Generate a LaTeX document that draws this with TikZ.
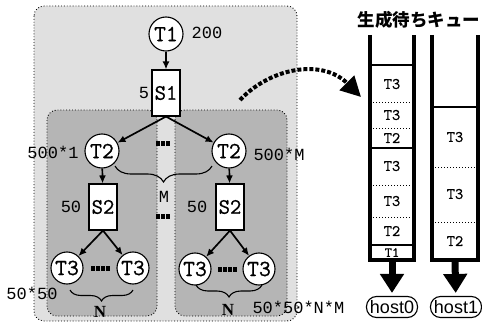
\documentclass[tikz,border=0pt]{standalone}
\usepackage{fontspec}
\setmainfont{Liberation Serif}
\setsansfont{Liberation Sans}
\setmonofont{Liberation Mono}
\newfontfamily\tlab{Latin Modern Mono}[FakeBold=0.8]
\newfontfamily\cjk{Noto Sans CJK JP}
\usetikzlibrary{arrows.meta,decorations.pathreplacing}
\newcommand\fsz[1]{\fontsize{#1}{#1}\selectfont}

\begin{document}
\begin{tikzpicture}[x=1pt, y=-1pt, >={Latex[length=8pt,width=7pt]},
  task/.style={draw, circle, line width=1.1pt, fill=white, minimum size=34pt, inner sep=0pt, font=\tlab\fsz{23}},
  stepbox/.style={draw, rectangle, line width=1.1pt, fill=white, minimum width=28pt, minimum height=46pt, inner sep=0pt, font=\tlab\fsz{22}},
  num/.style={font=\ttfamily\fsz{17}},
  qlabel/.style={font=\tlab\fsz{16}},
  flow/.style={->, line width=1.7pt},
  ellip/.style={line width=5pt, dash pattern=on 3.5pt off 1.5pt},
  grp/.style={draw, dotted, line width=0.9pt, rounded corners=10pt},
  brc/.style={decorate, decoration={brace, mirror, amplitude=#1}, line width=1.1pt},
  bigarr/.style={-{Triangle[length=19pt,width=23pt]}, line width=7pt},
  host/.style={draw, line width=1.1pt, rounded corners=10pt, minimum width=51pt, minimum height=21pt, inner sep=1pt, font=\sffamily\fsz{18}}]
\useasboundingbox (0,0) rectangle (482,329);

% task groups
\draw[grp, fill=black!12] (34,6) rectangle (297,321);
\draw[grp, fill=black!29] (47,110) rectangle (157,316);
\draw[grp, fill=black!29] (175,110) rectangle (287,316);

% task tree
\node[task] (t1) at (166,34) {T1};
\node[stepbox] (s1) at (166,93) {S1};
\node[task] (t2a) at (102,151) {T2};
\node[task] (t2b) at (229,151) {T2};
\node[stepbox] (s2a) at (103,207) {S2};
\node[stepbox] (s2b) at (230,207) {S2};
\node[task, minimum size=32pt] (t3a) at (67,268) {T3};
\node[task, minimum size=32pt] (t3b) at (133,268) {T3};
\node[task, minimum size=32pt] (t3c) at (195,269) {T3};
\node[task, minimum size=32pt] (t3d) at (259,269) {T3};

\draw[flow] (t1) -- (s1);
\draw[flow] (s1.south) -- (t2a);
\draw[flow] (s1.south) -- (t2b);
\draw[flow] (t2a) -- (s2a);
\draw[flow] (t2b) -- (s2b);
\draw[flow] (s2a.south) -- (t3a);
\draw[flow] (s2a.south) -- (t3b);
\draw[flow] (s2b.south) -- (t3c);
\draw[flow] (s2b.south) -- (t3d);

\draw[ellip, shorten <=26pt, shorten >=26pt] (t3a) -- (t3b);
\draw[ellip, shorten <=25pt, shorten >=25pt] (t3c) -- (t3d);
\draw[ellip] (156,143) -- (170,143);
\draw[ellip] (156,216) -- (170,216);

% braces
\draw[brc=16pt] (115,166) -- (212,166);
\draw[brc=11pt] (70,290) -- (133,290);
\draw[brc=12pt] (196,285) -- (262,285);
\node[num] (m) at (164,197) {M};
\node[font=\rmfamily\bfseries\fsz{17}] (na) at (100,312) {N};
\node[font=\rmfamily\bfseries\fsz{17}] (nb) at (228,310) {N};

% counts
\node[num] (c1) at (207,33) {200};
\node[num] (c2) at (144,93) {5};
\node[num] (c3) at (53,152) {500*1};
\node[num, anchor=west] (c4) at (250,154) {500*M};
\node[num] (c5) at (71,207) {50};
\node[num] (c6) at (197,207) {50};
\node[num] (c7) at (32,293) {50*50};
\node[num, anchor=west] (c8) at (249,307) {50*50*N*M};

% queues
\node[font=\cjk\bfseries\fsz{17.5}] (title) at (419,20) {生成待ちキュー};
\draw[line width=3.2pt] (370,35) -- (370,260) -- (414,260) -- (414,35);
\draw[line width=3.2pt] (432,35) -- (432,260) -- (478,260) -- (478,35);
\foreach \y in {65,148,245} \draw[line width=1.2pt] (370,\y) -- (414,\y);
\foreach \y in {102,128,185,217} \draw[dotted, line width=1pt] (370,\y) -- (414,\y);
\draw[line width=1.2pt] (432,107) -- (478,107);
\foreach \y in {167,222} \draw[dotted, line width=1pt] (432,\y) -- (478,\y);
\foreach \y/\t in {84/T3,115/T3,138/T2,166/T3,201/T3,231/T2}
  \node[qlabel] (qa\y) at (392,\y) {\t};
\node[qlabel, font=\tlab\fsz{14}] (qa253) at (392,252.5) {T1};
\foreach \y/\t in {137/T3,194/T3,241/T2}
  \node[qlabel] (qb\y) at (455,\y) {\t};

\node[host] (host0) at (392,307) {host0};
\node[host] (host1) at (456,307) {host1};
\coordinate (q0) at (392,261);
\coordinate (q1) at (455,261);
\draw[bigarr, shorten >=3pt] (q0) -- (host0);
\draw[bigarr, shorten >=3pt] (q1) -- (host1);

% hand-over arrow
\coordinate (src) at (240,100);
\coordinate (dst) at (361,97);
\draw[line width=4pt, dash pattern=on 4pt off 2pt, -{Triangle[length=20pt,width=20pt]}]
  (src) .. controls (270,68) and (322,58) .. (dst);
\end{tikzpicture}
\end{document}
